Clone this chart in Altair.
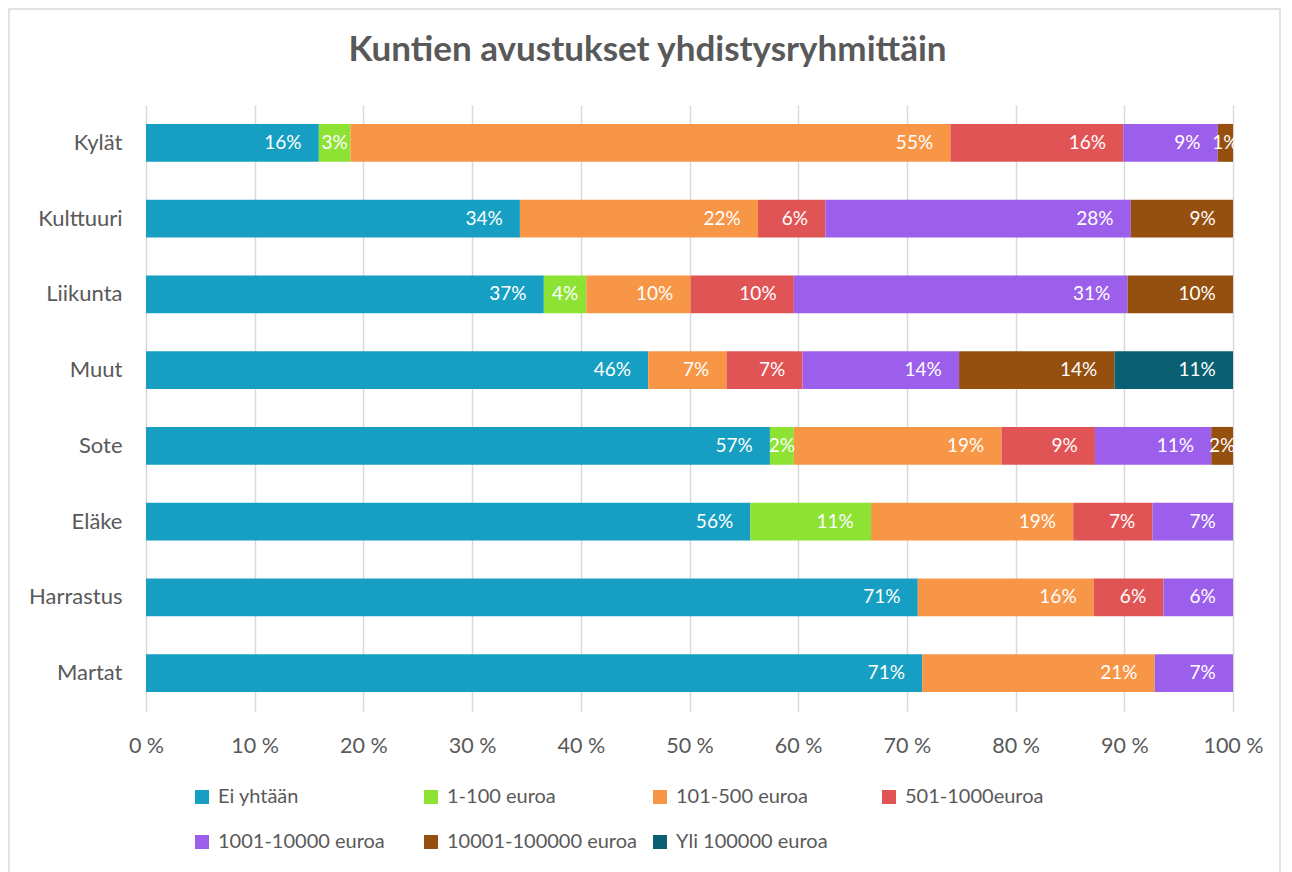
import altair as alt
import pandas as pd

groups = ["Kylät", "Kulttuuri", "Liikunta", "Muut", "Sote", "Eläke", "Harrastus\u00a0", "Martat"]
series = ["Ei yhtään", "1-100 euroa", "101-500 euroa", "501-1000euroa",
          "1001-10000 euroa", "10001-100000 euroa", "Yli 100000 euroa"]
colors = ["#169FC2", "#8DE233", "#F79646", "#E15456", "#9C5FEC", "#954F0F", "#0A6072"]

ei_yhtaan = [15.9, 34.4, 36.6, 46.2, 57.4, 55.6, 71.0, 71.4]
e_1_100 = [2.9, 0, 3.9, 0, 2.2, 11.1, 0, 0]
e_101_500 = [55.2, 21.9, 9.6, 7.2, 19.1, 18.6, 16.2, 21.4]
e_501_1000 = [15.9, 6.2, 9.5, 7.0, 8.6, 7.3, 6.4, 0]
e_1001_10000 = [8.7, 28.1, 30.7, 14.4, 10.7, 7.4, 6.4, 7.2]
e_10001_100000 = [1.4, 9.4, 9.7, 14.3, 2.0, 0, 0, 0]
yli_100000 = [0, 0, 0, 10.9, 0, 0, 0, 0]

x_ticks = [0, 10, 20, 30, 40, 50, 60, 70, 80, 90, 100]

all_vals = [ei_yhtaan, e_1_100, e_101_500, e_501_1000, e_1001_10000, e_10001_100000, yli_100000]
rows = []
for si, (name, vals) in enumerate(zip(series, all_vals)):
    for g, v in zip(groups, vals):
        if v > 0:
            rows.append({"group": g, "series": name, "order": si, "value": v})
df = pd.DataFrame(rows)

FONT = "Lato"
GRAY = "#595959"

base = alt.Chart(df).transform_stack(
    stack="value", groupby=["group"], as_=["x0", "x1"],
    sort=[alt.SortField("order", order="ascending")]
)

xscale = alt.Scale(domain=[0, 100], nice=False, zero=True)
yscale = alt.Scale(paddingInner=0.5, paddingOuter=0.25)

bars = base.mark_bar().encode(
    x=alt.X("x0:Q", scale=xscale,
            axis=alt.Axis(values=x_ticks, labelExpr="datum.value + ' %'", title=None,
                          grid=True, gridColor="#d9d9d9", gridWidth=1.5,
                          domain=False, ticks=False, labelPadding=24, labelFlush=False,
                          labelFont=FONT, labelFontSize=21.5, labelColor=GRAY)),
    x2="x1:Q",
    y=alt.Y("group:N", sort=groups, scale=yscale,
            axis=alt.Axis(title=None, domain=False, ticks=False, grid=False,
                          labelPadding=24, labelFont=FONT, labelFontSize=22,
                          labelColor=GRAY)),
    color=alt.Color("series:N", sort=series,
                    scale=alt.Scale(domain=series, range=colors),
                    legend=alt.Legend(orient="none", legendX=46, legendY=682,
                                      direction="horizontal", columns=4,
                                      gridAlign="all", title=None,
                                      symbolType="square", symbolSize=196,
                                      symbolStrokeWidth=0, labelFont=FONT,
                                      labelFontSize=20, labelColor=GRAY,
                                      labelLimit=400, labelOffset=6,
                                      columnPadding=12, rowPadding=25, padding=0)),
    order=alt.Order("order:Q"),
)

labels = base.transform_calculate(
    mid="(datum.x0 + datum.x1) / 2",
    lab="round(datum.value) + '%'",
    off="round(datum.value) >= 10 ? 3.3 : 2.8",
).transform_calculate(
    pos="max(datum.x1 - datum.off, datum.mid)"
).mark_text(color="white", font=FONT, fontSize=19, align="center", baseline="middle").encode(
    x=alt.X("pos:Q", scale=xscale),
    y=alt.Y("group:N", sort=groups, scale=yscale),
    text="lab:N",
)

frame = alt.Chart(alt.Data(values=[{"f": 1}])).mark_rect(
    fill=None, stroke="#d9d9d9", strokeWidth=1.5
).encode(
    x=alt.value(-137), x2=alt.value(1134), y=alt.value(-96), y2=alt.value(775)
)

chart = alt.layer(frame, bars, labels).properties(
    width=1087, height=606,
    autosize="none",
    padding={"left": 138, "top": 97, "right": 51, "bottom": 161},
    background="white",
    title=alt.TitleParams(
        "Kuntien avustukset yhdistysryhmittäin",
        font=FONT, fontSize=35, fontWeight="bold", color=GRAY,
        anchor="middle", frame="group", dx=-42, offset=-60,
    ),
).configure_view(stroke=None)

chart.save("out.html", embed_options={"renderer": "svg", "actions": False})
